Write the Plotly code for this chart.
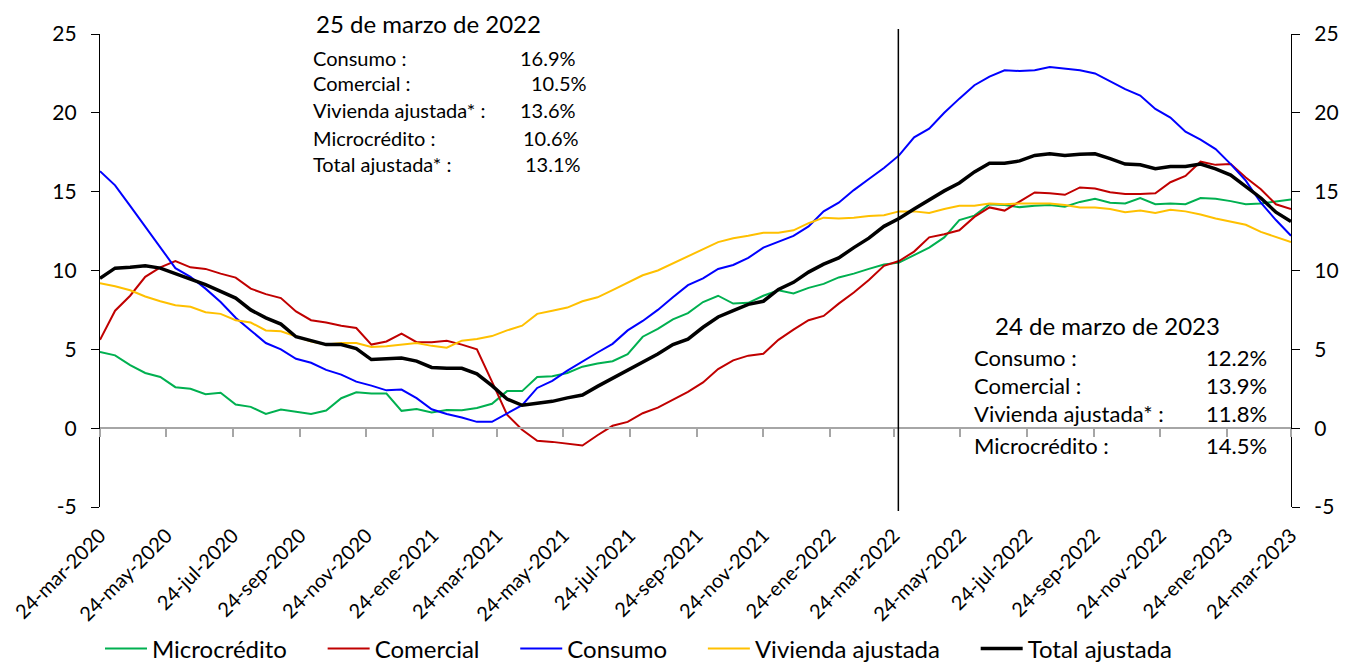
import plotly.graph_objects as go
import pandas as pd

# ---------------- data ----------------
fecha_inicio = "2020-03-24"
fecha_fin = "2023-03-24"
n_puntos = 80
fechas = pd.date_range(fecha_inicio, fecha_fin, periods=n_puntos)
fecha_corte = "2022-03-28"

microcredito = [4.84, 4.62, 4.0, 3.5, 3.25, 2.6, 2.5, 2.15, 2.25, 1.5,
                1.35, 0.9, 1.18, 1.05, 0.9, 1.12, 1.9, 2.28, 2.2, 2.2,
                1.1, 1.22, 1.0, 1.15, 1.14, 1.28, 1.55, 2.35, 2.35, 3.25,
                3.3, 3.5, 3.9, 4.1, 4.25, 4.7, 5.8, 6.3, 6.9, 7.3,
                8.0, 8.4, 7.9, 7.95, 8.4, 8.75, 8.55, 8.9, 9.15, 9.56,
                9.8, 10.1, 10.38, 10.5, 10.95, 11.45, 12.1, 13.2, 13.48, 14.2,
                14.15, 14.02, 14.1, 14.15, 14.05, 14.35, 14.55, 14.3, 14.25, 14.6,
                14.2, 14.25, 14.2, 14.6, 14.55, 14.4, 14.2, 14.25, 14.38, 14.5]

comercial = [5.6, 7.45, 8.4, 9.6, 10.2, 10.6, 10.2, 10.1, 9.8, 9.55,
             8.85, 8.5, 8.25, 7.4, 6.85, 6.7, 6.5, 6.35, 5.3, 5.5,
             6.0, 5.45, 5.45, 5.55, 5.3, 5.0, 2.95, 0.85, -0.1, -0.8,
             -0.87, -1.0, -1.1, -0.45, 0.15, 0.4, 0.95, 1.3, 1.8, 2.3,
             2.9, 3.75, 4.3, 4.6, 4.72, 5.6, 6.25, 6.85, 7.12, 7.9,
             8.6, 9.4, 10.3, 10.6, 11.2, 12.1, 12.3, 12.55, 13.4, 14.0,
             13.8, 14.35, 14.95, 14.9, 14.8, 15.27, 15.2, 14.97, 14.85, 14.85,
             14.9, 15.6, 16.0, 16.9, 16.7, 16.75, 15.9, 15.15, 14.2, 13.9]

consumo = [16.3, 15.4, 14.1, 12.8, 11.5, 10.15, 9.6, 8.85, 8.0, 7.0,
           6.2, 5.4, 5.0, 4.4, 4.15, 3.7, 3.4, 2.95, 2.7, 2.4,
           2.45, 1.9, 1.2, 0.9, 0.68, 0.4, 0.4, 0.95, 1.46, 2.55,
           3.0, 3.65, 4.25, 4.8, 5.35, 6.2, 6.8, 7.5, 8.3, 9.07,
           9.5, 10.1, 10.35, 10.8, 11.45, 11.85, 12.2, 12.8, 13.75, 14.3,
           15.1, 15.8, 16.5, 17.3, 18.45, 19.0, 20.0, 20.9, 21.75, 22.3,
           22.7, 22.65, 22.7, 22.9, 22.8, 22.7, 22.5, 22.0, 21.5, 21.1,
           20.25, 19.7, 18.8, 18.3, 17.7, 16.75, 15.7, 14.3, 13.2, 12.2]

vivienda = [9.2, 9.0, 8.75, 8.35, 8.05, 7.8, 7.7, 7.35, 7.25, 6.85,
            6.7, 6.2, 6.15, 5.8, 5.5, 5.3, 5.4, 5.4, 5.15, 5.2,
            5.3, 5.4, 5.22, 5.1, 5.55, 5.65, 5.84, 6.2, 6.5, 7.25,
            7.45, 7.65, 8.05, 8.3, 8.75, 9.2, 9.7, 10.0, 10.45, 10.9,
            11.4, 11.8, 12.05, 12.2, 12.4, 12.4, 12.55, 13.0, 13.35, 13.3,
            13.35, 13.45, 13.5, 13.75, 13.75, 13.65, 13.9, 14.1, 14.1, 14.25,
            14.2, 14.25, 14.25, 14.25, 14.15, 14.0, 14.0, 13.9, 13.7, 13.8,
            13.65, 13.85, 13.75, 13.55, 13.3, 13.1, 12.9, 12.45, 12.1, 11.8]

total = [9.5, 10.15, 10.2, 10.3, 10.15, 9.82, 9.45, 9.1, 8.65, 8.25,
         7.5, 7.0, 6.6, 5.8, 5.55, 5.3, 5.3, 5.05, 4.35, 4.4,
         4.45, 4.25, 3.85, 3.8, 3.8, 3.45, 2.7, 1.85, 1.45, 1.58,
         1.7, 1.92, 2.1, 2.65, 3.15, 3.7, 4.15, 4.7, 5.3, 5.65,
         6.4, 7.05, 7.45, 7.85, 8.05, 8.8, 9.25, 9.9, 10.4, 10.8,
         11.45, 12.05, 12.8, 13.3, 13.9, 14.5, 15.05, 15.55, 16.25, 16.8,
         16.8, 16.95, 17.3, 17.4, 17.3, 17.38, 17.4, 17.1, 16.75, 16.7,
         16.45, 16.6, 16.6, 16.75, 16.45, 16.05, 15.35, 14.6, 13.7, 13.1]

tick_fechas = ["2020-03-24", "2020-05-24", "2020-07-24", "2020-09-24", "2020-11-24",
               "2021-01-24", "2021-03-24", "2021-05-24", "2021-07-24", "2021-09-24",
               "2021-11-24", "2022-01-24", "2022-03-24", "2022-05-24", "2022-07-24",
               "2022-09-24", "2022-11-24", "2023-01-24", "2023-03-24"]
tick_textos = ["24-mar-2020", "24-may-2020", "24-jul-2020", "24-sep-2020", "24-nov-2020",
               "24-ene-2021", "24-mar-2021", "24-may-2021", "24-jul-2021", "24-sep-2021",
               "24-nov-2021", "24-ene-2022", "24-mar-2022", "24-may-2022", "24-jul-2022",
               "24-sep-2022", "24-nov-2022", "24-ene-2023", "24-mar-2023"]

y_ticks = [-5, 0, 5, 10, 15, 20, 25]
y_textos = ["-5", "0", "5", "10", "15", "20", "25"]

titulo_2022 = "25 de marzo de 2022"
etiquetas_2022 = ["Consumo :", "Comercial :", "Vivienda ajustada* :", "Microcrédito :", "Total ajustada* :"]
valores_2022 = ["16.9%", "10.5%", "13.6%", "10.6%", "13.1%"]
titulo_2023 = "24 de marzo de 2023"
etiquetas_2023 = ["Consumo :", "Comercial :", "Vivienda ajustada* :", "Microcrédito :"]
valores_2023 = ["12.2%", "13.9%", "11.8%", "14.5%"]

# ---------------- figure ----------------
PAGE_W, PAGE_H = 1347, 665
OFF = 8                                 # page body margin around the plot div
W, H = PAGE_W - OFF, PAGE_H - OFF
PL, PR, PT, PB = 100, 1291, 34, 507     # plot area in page pixels
FONT = "Lato"
PAD = "\u00a0" * 5                      # extra room after each legend entry


def fx(xp):
    return (xp - PL) / (PR - PL)


def fy(yp):
    return (PB - yp) / (PB - PT)


series = [
    ("Microcrédito", microcredito, "#00B050", 2),
    ("Comercial", comercial, "#C00000", 2),
    ("Consumo", consumo, "#0000FF", 2),
    ("Vivienda ajustada", vivienda, "#FFC000", 2),
    ("Total ajustada", total, "#000000", 3.5),
]

fig = go.Figure()
for nombre, vals, color, ancho in series:
    fig.add_trace(go.Scatter(x=fechas, y=vals, name=nombre + PAD, mode="lines",
                             line=dict(color=color, width=ancho)))

# invisible helper trace so that the zero-line axis and the right axis are drawn
fig.add_trace(go.Scatter(x=fechas, y=total, xaxis="x2", yaxis="y2", mode="lines",
                         line=dict(width=0), opacity=0, showlegend=False, hoverinfo="skip"))

rango_x = [fecha_inicio, fecha_fin]
eje_y = dict(range=[y_ticks[0], y_ticks[-1]], tickvals=y_ticks, ticktext=y_textos,
             showgrid=False, zeroline=False, automargin=False,
             showline=True, linecolor="black", linewidth=1.3, ticks="outside", ticklen=8,
             tickcolor="black", tickwidth=1.3, tickfont=dict(family=FONT, size=21, color="black"),
             ticklabelstandoff=10)

fig.update_layout(
    width=W, height=H,
    margin=dict(l=PL - OFF, r=PAGE_W - PR, t=PT - OFF, b=PAGE_H - PB, autoexpand=False),
    paper_bgcolor="white", plot_bgcolor="white",
    font=dict(family=FONT, color="black"),
    xaxis=dict(type="date", range=rango_x, tickvals=tick_fechas, ticktext=tick_textos,
               tickangle=-45, showgrid=False, zeroline=False, showline=False, ticks="",
               automargin=False, ticklabelstandoff=12,
               tickfont=dict(family=FONT, size=20, color="black")),
    xaxis2=dict(type="date", range=rango_x, overlaying="x", anchor="free",
                position=(0 - y_ticks[0]) / (y_ticks[-1] - y_ticks[0]), tickvals=tick_fechas,
                showticklabels=False, ticks="outside", ticklen=8, tickcolor="#A6A6A6",
                tickwidth=1.5, showline=True, linecolor="#A6A6A6", linewidth=1.5,
                showgrid=False, zeroline=False, automargin=False),
    yaxis=eje_y,
    yaxis2=dict(eje_y, overlaying="y", side="right", anchor="x"),
    legend=dict(orientation="h", x=fx(100), xanchor="left", y=fy(649), yanchor="middle",
                font=dict(family=FONT, size=24, color="black"), itemwidth=42,
                bgcolor="rgba(0,0,0,0)"),
    showlegend=True,
)

fig.add_shape(type="line", xref="x", yref="paper", x0=fecha_corte, x1=fecha_corte,
              y0=fy(511), y1=fy(29), line=dict(color="black", width=1.5))

anots = []
anots.append(dict(text=titulo_2022, x=fx(314), y=fy(24), xanchor="left", yanchor="middle",
                  font=dict(size=24)))
for etq, val, ypix, xval in zip(etiquetas_2022, valores_2022, [58, 83, 110, 138, 164],
                                [518, 529, 518, 521, 523]):
    anots.append(dict(text=etq, x=fx(311), y=fy(ypix), xanchor="left", yanchor="middle",
                      font=dict(size=20)))
    anots.append(dict(text=val, x=fx(xval), y=fy(ypix), xanchor="left", yanchor="middle",
                      font=dict(size=20)))
anots.append(dict(text=titulo_2023, x=fx(993), y=fy(325), xanchor="left", yanchor="middle",
                  font=dict(size=24)))
for etq, val, ypix in zip(etiquetas_2023, valores_2023, [357, 385, 413, 445]):
    anots.append(dict(text=etq, x=fx(972), y=fy(ypix), xanchor="left", yanchor="middle",
                      font=dict(size=22)))
    anots.append(dict(text=val, x=fx(1269), y=fy(ypix), xanchor="right", yanchor="middle",
                      font=dict(size=22)))
for a in anots:
    a.update(xref="paper", yref="paper", showarrow=False)
    a["font"].update(family=FONT, color="black")
fig.update_layout(annotations=anots)

fig.write_html("out.html")
